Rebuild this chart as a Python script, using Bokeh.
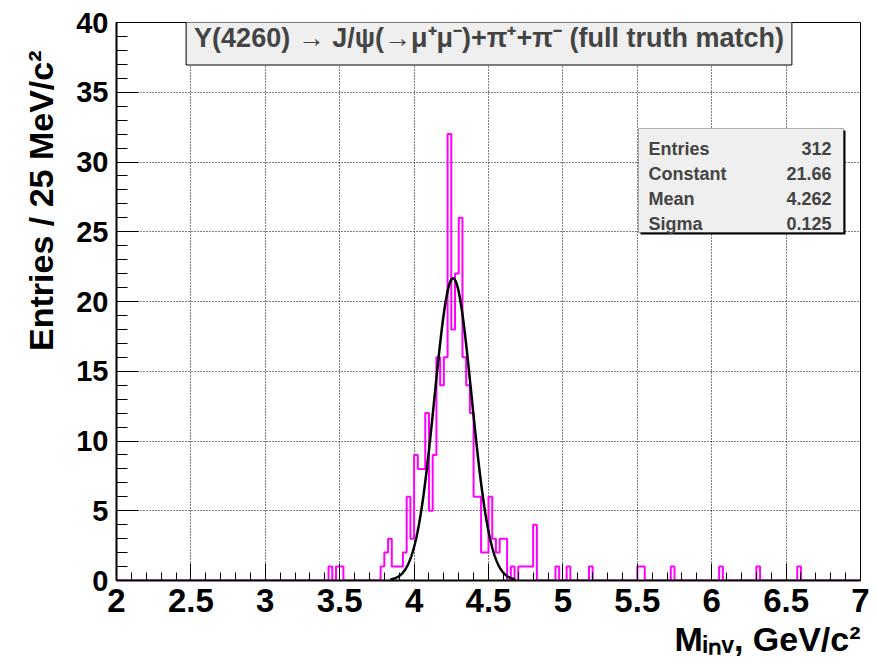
import numpy as np
from bokeh.plotting import figure
from bokeh.models import Label, BoxAnnotation, FixedTicker, Range1d, Title
from bokeh.embed import file_html
from bokeh.resources import INLINE

# ---------------- data ----------------
x_min, x_max = 2.0, 7.0
y_min, y_max = 0.0, 40.0
bin_width = 0.025

# contiguous part of the histogram: low edge of first bin and bin contents
core_start = 3.775
core_counts = [1, 2, 3, 1, 1, 1, 2, 6, 3,
               9, 8, 8, 12, 5, 9, 16, 14, 16, 32,
               18, 22, 26, 16, 14, 12, 6, 6, 2, 2,
               6, 3, 2, 3, 3, 0, 1, 0, 1, 1, 1, 1, 4]
# isolated entries in the tails (bin low edges, contents)
tail_bins = [3.425, 3.475, 3.5, 4.95, 5.025, 5.175, 5.5, 5.525, 5.725, 6.05, 6.3, 6.575]
tail_counts = [1, 1, 1, 1, 1, 1, 1, 1, 1, 1, 1, 1]

# gaussian fit
fit_constant = 21.66
fit_mean = 4.262
fit_sigma = 0.125
fit_lo, fit_hi = 3.84, 4.68

stats_names = ["Entries", "Constant", "Mean", "Sigma"]
stats_values = ["312", "21.66", "4.262", "0.125"]

x_tick_values = [2.0, 2.5, 3.0, 3.5, 4.0, 4.5, 5.0, 5.5, 6.0, 6.5, 7.0]
x_tick_labels = ["2", "2.5", "3", "3.5", "4", "4.5", "5", "5.5", "6", "6.5", "7"]
y_tick_values = [0, 5, 10, 15, 20, 25, 30, 35, 40]
y_tick_labels = ["0", "5", "10", "15", "20", "25", "30", "35", "40"]

title_text = "Y(4260) \u2192 J/\u03c8(\u2192\u03bc\u207a\u03bc\u207b)+\u03c0\u207a+\u03c0\u207b (full truth match)"
y_title = "Entries / 25 MeV/c\u00b2"
x_title = "M\u1d62\u2099\u1d65, GeV/c\u00b2"

# ---------------- build histogram ----------------
nbins = int(round((x_max - x_min) / bin_width))
edges = x_min + bin_width * np.arange(nbins + 1)
counts = np.zeros(nbins)
for i, c in enumerate(core_counts):
    counts[int(round((core_start - x_min) / bin_width)) + i] += c
for b, c in zip(tail_bins, tail_counts):
    counts[int(round((b - x_min) / bin_width))] += c
step_y = np.append(counts, counts[-1])

fx = np.linspace(fit_lo, fit_hi, 300)
fy = fit_constant * np.exp(-0.5 * ((fx - fit_mean) / fit_sigma) ** 2)

# ---------------- layout helpers (page pixels -> data) ----------------
W, H = 877, 670
FL, FR, FT, FB = 116, 860, 22, 580


def X(px):
    return x_min + (px - FL) * (x_max - x_min) / (FR - FL)


def Y(py):
    return y_min + (FB - py) * (y_max - y_min) / (FB - FT)


FONT = "Liberation Sans"

p = figure(width=W, height=H, x_range=Range1d(x_min, x_max), y_range=Range1d(y_min, y_max),
           output_backend="svg", toolbar_location=None,
           min_border_left=FL, min_border_right=W - FR, min_border_top=FT, min_border_bottom=H - FB)
p.background_fill_color = "white"
p.border_fill_color = "white"
p.outline_line_color = "black"
p.outline_line_width = 1
p.outline_line_alpha = 1.0

# axes
p.xaxis.ticker = FixedTicker(ticks=x_tick_values,
                             minor_ticks=[float(v) for v in np.round(np.arange(x_min, x_max + 1e-9, 0.1), 3)])
p.yaxis.ticker = FixedTicker(ticks=y_tick_values, minor_ticks=list(range(0, 41)))
p.xaxis.major_label_overrides = {v: l for v, l in zip(x_tick_values, x_tick_labels)}
p.yaxis.major_label_overrides = {v: l for v, l in zip(y_tick_values, y_tick_labels)}
for ax in (p.xaxis, p.yaxis):
    ax.axis_line_color = "black"
    ax.axis_line_width = 2
    ax.major_tick_line_color = "black"
    ax.minor_tick_line_color = "black"
    ax.major_tick_out = 0
    ax.minor_tick_out = 0
    ax.major_label_text_font = FONT
    ax.major_label_text_font_style = "bold"
    ax.major_label_text_color = "black"
    ax.major_label_standoff = 8
p.xaxis.major_tick_in = 17
p.xaxis.minor_tick_in = 8
p.yaxis.major_tick_in = 22
p.yaxis.minor_tick_in = 11
p.xaxis.major_label_text_font_size = "33px"
p.yaxis.major_label_text_font_size = "29px"

for g in (p.xgrid, p.ygrid):
    g.grid_line_color = "black"
    g.grid_line_dash = "1 2"
    g.grid_line_width = 1

# axis titles (right-aligned, as in the reference)
p.add_layout(Title(text=y_title, align="right", offset=28, standoff=27, text_font=FONT,
                   text_font_style="bold", text_font_size="34px", text_color="black"), "left")
p.add_layout(Title(text=x_title, align="right", offset=0, standoff=6, text_font=FONT,
                   text_font_style="bold", text_font_size="34px", text_color="black"), "below")

# histogram + fit
p.step(edges, step_y, mode="after", line_color="#ff00ff", line_width=2)
p.line(fx, fy, line_color="black", line_width=2.5)

# ---------------- stats box ----------------
p.add_layout(BoxAnnotation(left=X(640), right=X(845), top=Y(130), bottom=Y(234),
                           fill_color="black", fill_alpha=1, line_alpha=0))
p.add_layout(BoxAnnotation(left=X(638), right=X(843), top=Y(128), bottom=Y(232),
                           fill_color="#efefef", fill_alpha=1, line_color="black", line_width=1))
for i, (nm, vl) in enumerate(zip(stats_names, stats_values)):
    base = 148 + 25 * i
    p.add_layout(Label(x=X(648), y=Y(base), text=nm, text_font=FONT, text_font_style="bold",
                       text_font_size="18px", text_align="left", text_baseline="alphabetic"))
    p.add_layout(Label(x=X(831), y=Y(base), text=vl, text_font=FONT, text_font_style="bold",
                       text_font_size="18px", text_align="right", text_baseline="alphabetic"))

# ---------------- title box ----------------
pad = dict(left=8, right=8, top=12, bottom=12)
p.add_layout(Label(x=X(488.5), y=Y(37.5), text=title_text, text_font=FONT, text_font_style="bold",
                   text_font_size="27px", text_align="center", text_baseline="middle",
                   text_alpha=0, background_fill_color="black", padding=pad,
                   x_offset=3, y_offset=-3))
p.add_layout(Label(x=X(488.5), y=Y(37.5), text=title_text, text_font=FONT, text_font_style="bold",
                   text_font_size="27px", text_align="center", text_baseline="middle",
                   background_fill_color="#efefef", border_line_color="black", border_line_width=1,
                   padding=pad))

open("out.html", "w").write(file_html(p, INLINE))
